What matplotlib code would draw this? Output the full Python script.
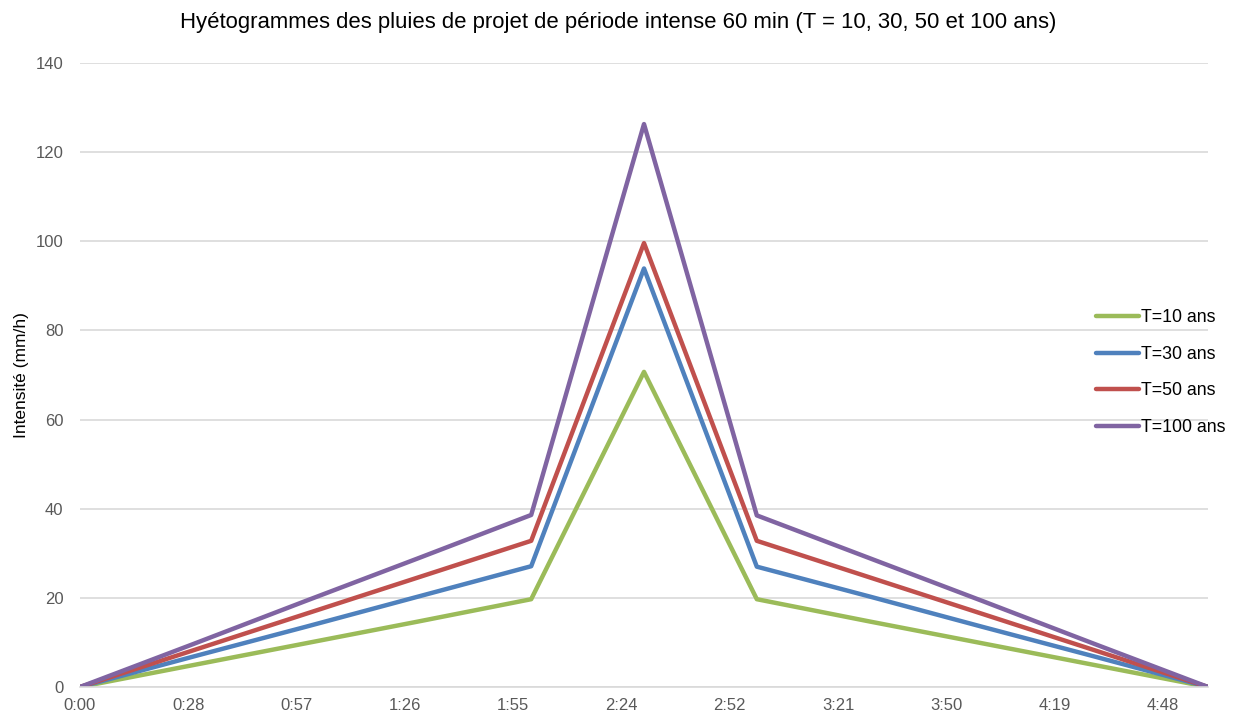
import matplotlib
matplotlib.use("Agg")
import matplotlib.pyplot as plt

# time in minutes from start of the storm
minutes = [0, 30, 60, 90, 120, 150, 180, 210, 240, 270, 300]

# intensity (mm/h)
t10 = [0, 4.9, 9.8, 14.7, 19.7, 70.7, 19.7, 14.7, 9.8, 4.9, 0]
t30 = [0, 6.8, 13.5, 20.3, 27.1, 93.9, 27.0, 20.3, 13.5, 6.8, 0]
t50 = [0, 8.2, 16.4, 24.6, 32.8, 99.6, 32.8, 24.6, 16.4, 8.2, 0]
t100 = [0, 9.6, 19.3, 28.9, 38.6, 126.3, 38.5, 28.9, 19.3, 9.6, 0]

series_labels = ["T=10 ans", "T=30 ans", "T=50 ans", "T=100 ans"]
series_colors = ["#9bbb59", "#4f81bd", "#c0504d", "#8064a2"]

xtick_labels = ["0:00", "0:28", "0:57", "1:26", "1:55", "2:24",
                "2:52", "3:21", "3:50", "4:19", "4:48"]
xtick_step = 28.8  # Excel date axis major unit (0.02 day)

plt.rcParams['font.family'] = ['Liberation Sans', 'DejaVu Sans']

fig = plt.figure(figsize=(12.37, 7.2), dpi=100)
ax = fig.add_axes([80 / 1237, 33 / 720, 1128 / 1237, 624 / 720])

for vals, lab, col in zip([t10, t30, t50, t100], series_labels, series_colors):
    ax.plot(minutes, vals, color=col, lw=3.2, label=lab,
            solid_joinstyle='round', solid_capstyle='round')

ax.set_xlim(0, 300)
ax.set_ylim(0, 140)
ax.set_yticks(range(0, 141, 20))
ax.set_xticks([i * xtick_step for i in range(len(xtick_labels))])
ax.set_xticklabels(xtick_labels)

ax.grid(axis='y', color='#d9d9d9', lw=1.2)
ax.set_axisbelow(True)
for s in ['top', 'right', 'left']:
    ax.spines[s].set_visible(False)
ax.spines['bottom'].set_color('#d9d9d9')
ax.spines['bottom'].set_linewidth(1.2)
ax.tick_params(axis='y', length=0, labelsize=12, colors='#595959', pad=12)
ax.tick_params(axis='x', length=0, labelsize=12, colors='#595959', pad=8)

ax.set_ylabel("Intensité (mm/h)", fontsize=12.5, color='black', labelpad=5)
fig.suptitle("Hyétogrammes des pluies de projet de période intense 60 min (T = 10, 30, 50 et 100 ans)",
             fontsize=15.9, x=0.5, y=0.983, va='top')

ax.legend(loc='center left', bbox_to_anchor=(1080 / 1237, 347.5 / 720),
          bbox_transform=fig.transFigure, frameon=False, fontsize=12.8,
          handlelength=2.4, handletextpad=0.15, labelspacing=1.1)

fig.savefig("out.png", dpi=100)
